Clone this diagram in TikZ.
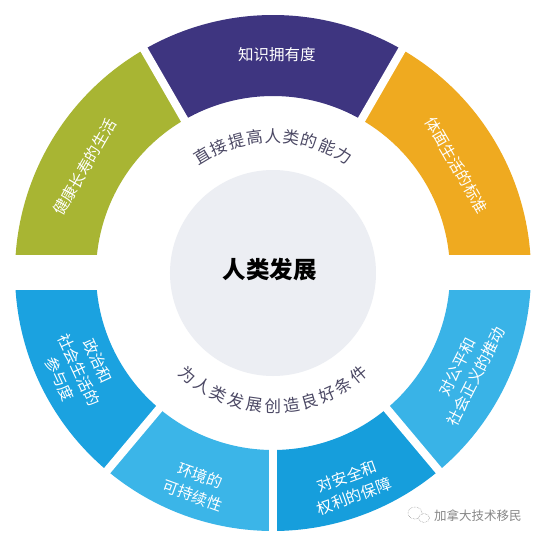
\documentclass[tikz,border=0pt]{standalone}
\usepackage{fontspec}
\setmainfont{Noto Sans CJK SC}
\definecolor{cgreen}{RGB}{168,181,51}
\definecolor{cpurple}{RGB}{62,53,128}
\definecolor{corange}{RGB}{239,170,32}
\definecolor{cblueA}{RGB}{27,162,224}
\definecolor{cblueB}{RGB}{59,181,232}
\definecolor{cblueC}{RGB}{22,158,220}
\definecolor{cblueD}{RGB}{57,179,231}
\definecolor{ccore}{RGB}{236,238,243}
\definecolor{carc}{RGB}{75,72,100}
\definecolor{cmark}{RGB}{135,135,135}
\newcommand\segfill[3]{\fill[#1] (#2:258) arc[start angle=#2,end angle=#3,radius=258pt] -- (#3:177) arc[start angle=#3,end angle=#2,radius=177pt] -- cycle;}
\begin{document}
\begin{tikzpicture}[x=1pt,y=1pt,
  segtext/.style={text=white,inner sep=0pt,font=\fontsize{15.5}{21}\selectfont,align=center},
  arctext/.style={text=carc,inner sep=0pt,font=\fontsize{16.5}{18}\selectfont},
  gapline/.style={white,line width=8pt},
  marktext/.style={text=cmark,inner sep=0pt,font=\fontsize{12.5}{14}\selectfont}]
\useasboundingbox[fill=white] (-273,-269) rectangle (268,273);
% ring segments
\segfill{corange}{0}{60}
\segfill{cpurple}{60}{120}
\segfill{cgreen}{120}{180}
\segfill{cblueA}{180}{230}
\segfill{cblueB}{230}{270}
\segfill{cblueC}{270}{310}
\segfill{cblueD}{310}{360}
% gaps
\draw[gapline] (60:170) -- (60:266);
\draw[gapline] (120:170) -- (120:266);
\draw[gapline] (230:170) -- (230:266);
\draw[gapline] (270:170) -- (270:266);
\draw[gapline] (310:170) -- (310:266);
\fill[white] (-270,-17) rectangle (270,18);
% core
\node[circle,fill=ccore,minimum size=206pt,inner sep=0pt] (core) at (0,0) {};
\node[inner sep=0pt,font=\fontsize{23.5}{25}\selectfont\bfseries] (title) at (-3,3) {人类发展};
% segment texts
\node[segtext] (know) at (4,218) {知识拥有度};
\node[segtext,rotate=60] (health) at (150.6:216) {健康长寿的生活};
\node[segtext,rotate=-60] (decent) at (30.4:213) {体面生活的标准};
\node[segtext,rotate=-65] (polit) at (206.6:217) {政治和\\社会生活的\\参与度};
\node[segtext,rotate=-20] (envir) at (250.2:226) {环境的\\可持续性};
\node[segtext,rotate=20] (safe) at (290:227) {对安全和\\权利的保障};
\node[segtext,rotate=63] (just) at (-27:217) {对公平和\\社会正义的推动};
% arc texts
\foreach \c [count=\i from 0] in {直,接,提,高,人,类,的,能,力} {
  \pgfmathsetmacro\a{121-\i*7.75}
  \node[arctext,rotate=\a-90] (up\i) at (\a:137) {\c};
}
\foreach \c [count=\i from 0] in {为,人,类,发,展,创,造,良,好,条,件} {
  \pgfmathsetmacro\a{230+\i*8}
  \node[arctext,rotate=\a-270] (dn\i) at (\a:133) {\c};
}
% watermark
\draw[cmark,line width=0.5pt,densely dotted] (142,-240) ellipse[x radius=7pt,y radius=6pt];
\draw[cmark,line width=0.5pt,densely dotted,fill=white] (151,-245) ellipse[x radius=5.5pt,y radius=4.5pt];
\node[marktext] (mark) at (205,-243) {加拿大技术移民};
\end{tikzpicture}
\end{document}
